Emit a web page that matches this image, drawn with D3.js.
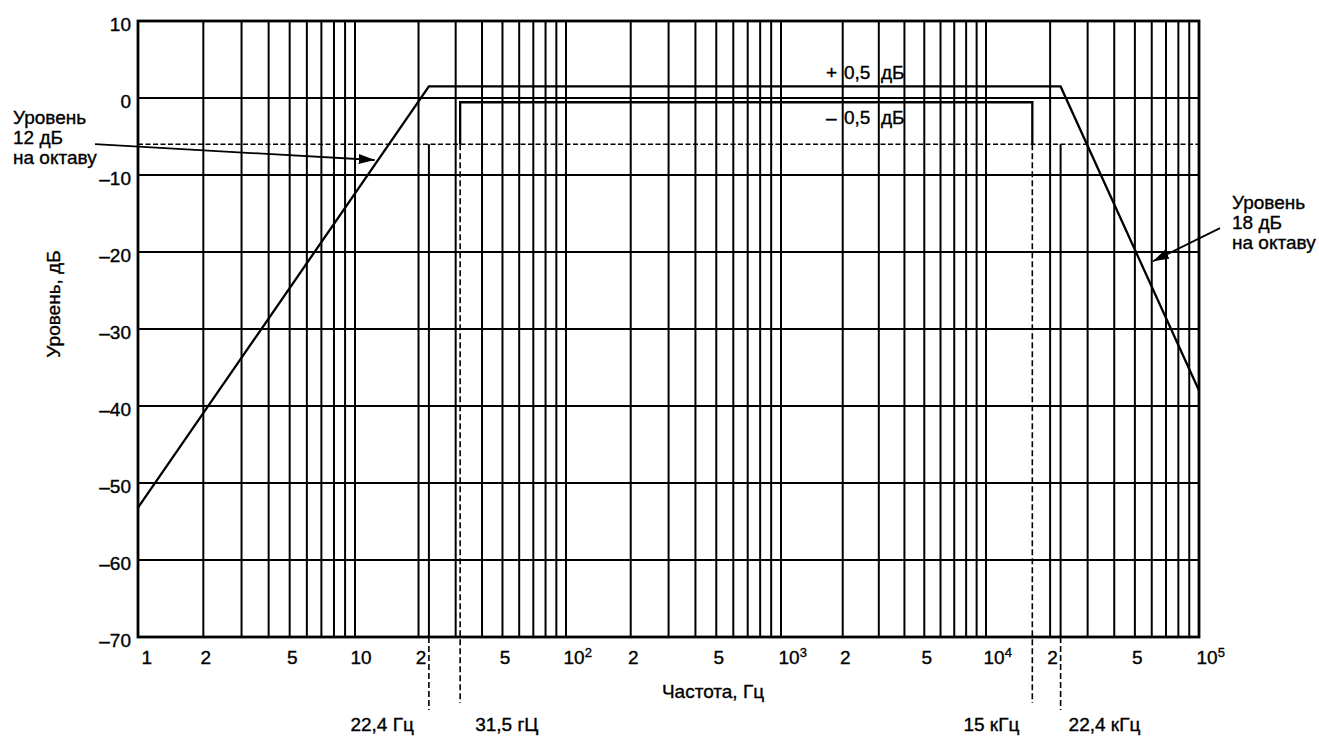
<!DOCTYPE html>
<html><head><meta charset="utf-8">
<script src="https://cdn.jsdelivr.net/npm/d3@7"></script>
<style>
body{margin:0;background:#fff;}
text{font-family:"Liberation Sans",Arial,sans-serif;font-size:19px;fill:#000;stroke:#000;stroke-width:0.35px;}
</style></head><body>
<svg id="chart" width="1319" height="736"></svg>
<script>
// ---------- data ----------
const decades = [1, 10, 100, 1000, 10000, 100000];
const gridMultipliers = [1, 2, 3, 4, 5, 6, 7, 8, 9];
const levelGrid = [0, -10, -20, -30, -40, -50, -60];
const levelTicks = [10, 0, -10, -20, -30, -40, -50, -60, -70];
const levelTickLabels = ["10", "0", "–10", "–20", "–30", "–40", "–50", "–60", "–70"];
const freqTicks = [1, 2, 5, 10, 20, 50, 100, 200, 500, 1000, 2000, 5000, 10000, 20000, 50000, 100000];
const freqTickBase = ["1", "2", "5", "10", "2", "5", "10", "2", "5", "10", "2", "5", "10", "2", "5", "10"];
const freqTickExp = ["", "", "", "", "", "", "2", "", "", "3", "", "", "4", "", "", "5"];

// upper tolerance boundary (+0,5 dB with 12 dB/oct and 18 dB/oct slopes)
const upperFreq = [1, 22.4, 22400, 100000];
const upperLevel = [-53.2, 1.5, 1.5, -38];
// lower tolerance boundary (-0,5 dB)
const lowerFreq = [31.5, 31.5, 16500, 16500];
const lowerLevel = [-6, -0.55, -0.55, -6];
// -6 dB reference (dashed)
const refLevel = -6;
// marker frequencies
const markerFreq = [22.4, 31.5, 16500, 22400];
const markerLabels = ["22,4 Гц", "31,5 гЦ", "15 кГц", "22,4 кГц"];
const markerSolid = [true, false, false, true];

// ---------- layout ----------
const svg = d3.select("#chart");
const x = d3.scaleLog().domain(decades).range([138, 355, 566, 781, 986, 1199]);
const y = d3.scaleLinear().domain([-70, 10]).range([637, 21]);
const fMin = decades[0], fMax = decades[decades.length - 1];

// arrow marker
svg.append("defs").append("marker")
  .attr("id", "arr").attr("viewBox", "0 0 16 10").attr("refX", 16).attr("refY", 5)
  .attr("markerWidth", 16).attr("markerHeight", 10).attr("markerUnits", "userSpaceOnUse")
  .attr("orient", "auto")
  .append("path").attr("d", "M0,0 L16,5 L0,10 Z").attr("fill", "#000");

// vertical grid
const vGrid = [];
decades.slice(0, -1).forEach(d => gridMultipliers.forEach(m => vGrid.push(d * m)));
svg.append("g").selectAll("line").data(vGrid).join("line")
  .attr("x1", d => x(d)).attr("x2", d => x(d))
  .attr("y1", y(10)).attr("y2", y(-70))
  .attr("stroke", "#000").attr("stroke-width", 2);

// horizontal grid
svg.append("g").selectAll("line").data(levelGrid).join("line")
  .attr("x1", x(fMin)).attr("x2", x(fMax))
  .attr("y1", d => y(d)).attr("y2", d => y(d))
  .attr("stroke", "#000").attr("stroke-width", 2);

// frame
svg.append("rect")
  .attr("x", x(fMin)).attr("y", y(10))
  .attr("width", x(fMax) - x(fMin)).attr("height", y(-70) - y(10))
  .attr("fill", "none").attr("stroke", "#000").attr("stroke-width", 2.8);

// -6 dB dashed reference
svg.append("line")
  .attr("x1", x(fMin)).attr("x2", x(fMax))
  .attr("y1", y(refLevel)).attr("y2", y(refLevel))
  .attr("stroke", "#000").attr("stroke-width", 1.6).attr("stroke-dasharray", "5,2.5");

// marker verticals
markerFreq.forEach((f, i) => {
  if (markerSolid[i]) {
    svg.append("line").attr("x1", x(f)).attr("x2", x(f))
      .attr("y1", y(refLevel)).attr("y2", y(-70))
      .attr("stroke", "#000").attr("stroke-width", 2);
    svg.append("line").attr("x1", x(f)).attr("x2", x(f))
      .attr("y1", y(-70)).attr("y2", y(-70) + 73)
      .attr("stroke", "#000").attr("stroke-width", 1.6).attr("stroke-dasharray", "6,3");
  } else {
    svg.append("line").attr("x1", x(f)).attr("x2", x(f))
      .attr("y1", y(refLevel)).attr("y2", y(-70) + 66)
      .attr("stroke", "#000").attr("stroke-width", 1.6).attr("stroke-dasharray", "6,3");
  }
});
const markerAnchor = ["end", "start", "end", "start"];
const markerDx = [-15, 15, -13, 8];
svg.append("g").selectAll("text").data(markerFreq).join("text")
  .attr("x", (d, i) => x(d) + markerDx[i]).attr("y", 731)
  .attr("text-anchor", (d, i) => markerAnchor[i])
  .text((d, i) => markerLabels[i]);

// curves
const line = d3.line().x(d => x(d[0])).y(d => y(d[1]));
svg.append("path").datum(upperFreq.map((f, i) => [f, upperLevel[i]]))
  .attr("d", line).attr("fill", "none").attr("stroke", "#000").attr("stroke-width", 2.3)
  .attr("stroke-linejoin", "miter");
svg.append("path").datum(lowerFreq.map((f, i) => [f, lowerLevel[i]]))
  .attr("d", line).attr("fill", "none").attr("stroke", "#000").attr("stroke-width", 2.3);

// axes
const yAxis = d3.axisLeft(y).tickValues(levelTicks).tickSize(0).tickPadding(7)
  .tickFormat((d, i) => levelTickLabels[i]);
const gy = svg.append("g").attr("transform", `translate(${x(fMin)},0)`).call(yAxis);
gy.select(".domain").remove();
gy.attr("font-family", null).attr("font-size", null);
gy.selectAll("text").attr("dy", "0.5em").attr("fill", "#000");

const xAxis = d3.axisBottom(x).tickValues(freqTicks).tickSize(0).tickPadding(14).tickFormat("");
const gx = svg.append("g").attr("transform", `translate(0,${y(-70)})`).call(xAxis);
gx.select(".domain").remove();
gx.attr("font-family", null).attr("font-size", null);
gx.selectAll(".tick text").each(function (d, i) {
  const t = d3.select(this).attr("fill", "#000");
  t.text(freqTickBase[i]);
  if (freqTickBase[i] === "1") t.attr("text-anchor", "start").attr("dx", 3);
  else if (freqTickBase[i] === "10" && !freqTickExp[i]) t.attr("text-anchor", "start").attr("dx", -5);
  else if (freqTickExp[i]) {
    t.attr("text-anchor", "start").attr("dx", -3);
    t.append("tspan").attr("dy", "-0.55em").style("font-size", "13px").text(freqTickExp[i]);
  } else t.attr("dx", 2);
});

// axis titles
svg.append("text").attr("transform", "translate(60,304) rotate(-90)")
  .attr("text-anchor", "middle").text("Уровень, дБ");
svg.append("text").attr("x", 713).attr("y", 698).attr("text-anchor", "middle").text("Частота, Гц");

// tolerance labels
const plus = svg.append("text").attr("y", 79);
plus.append("tspan").attr("x", 826).text("+");
plus.append("tspan").attr("x", 844).text("0,5");
plus.append("tspan").attr("x", 881).text("дБ");
const minus = svg.append("text").attr("y", 124);
minus.append("tspan").attr("x", 826).text("–");
minus.append("tspan").attr("x", 844).text("0,5");
minus.append("tspan").attr("x", 881).text("дБ");

// slope annotations
const leftNote = ["Уровень", "12 дБ", "на октаву"];
const rightNote = ["Уровень", "18 дБ", "на октаву"];
svg.append("g").selectAll("text").data(leftNote).join("text")
  .attr("x", 13).attr("y", (d, i) => 124 + i * 20).text(d => d);
svg.append("g").selectAll("text").data(rightNote).join("text")
  .attr("x", 1232).attr("y", (d, i) => 209 + i * 20).text(d => d);

// arrows (tail / tip in data units)
const arrows = [
  { from: [0.634, -6.0], to: [12.4, -8.05] },
  { from: [125500, -16.9], to: [60800, -21.2] }
];
arrows.forEach(a => {
  svg.append("line")
    .attr("x1", x(a.from[0])).attr("y1", y(a.from[1]))
    .attr("x2", x(a.to[0])).attr("y2", y(a.to[1]))
    .attr("stroke", "#000").attr("stroke-width", 1.8).attr("marker-end", "url(#arr)");
});
</script>
</body></html>
